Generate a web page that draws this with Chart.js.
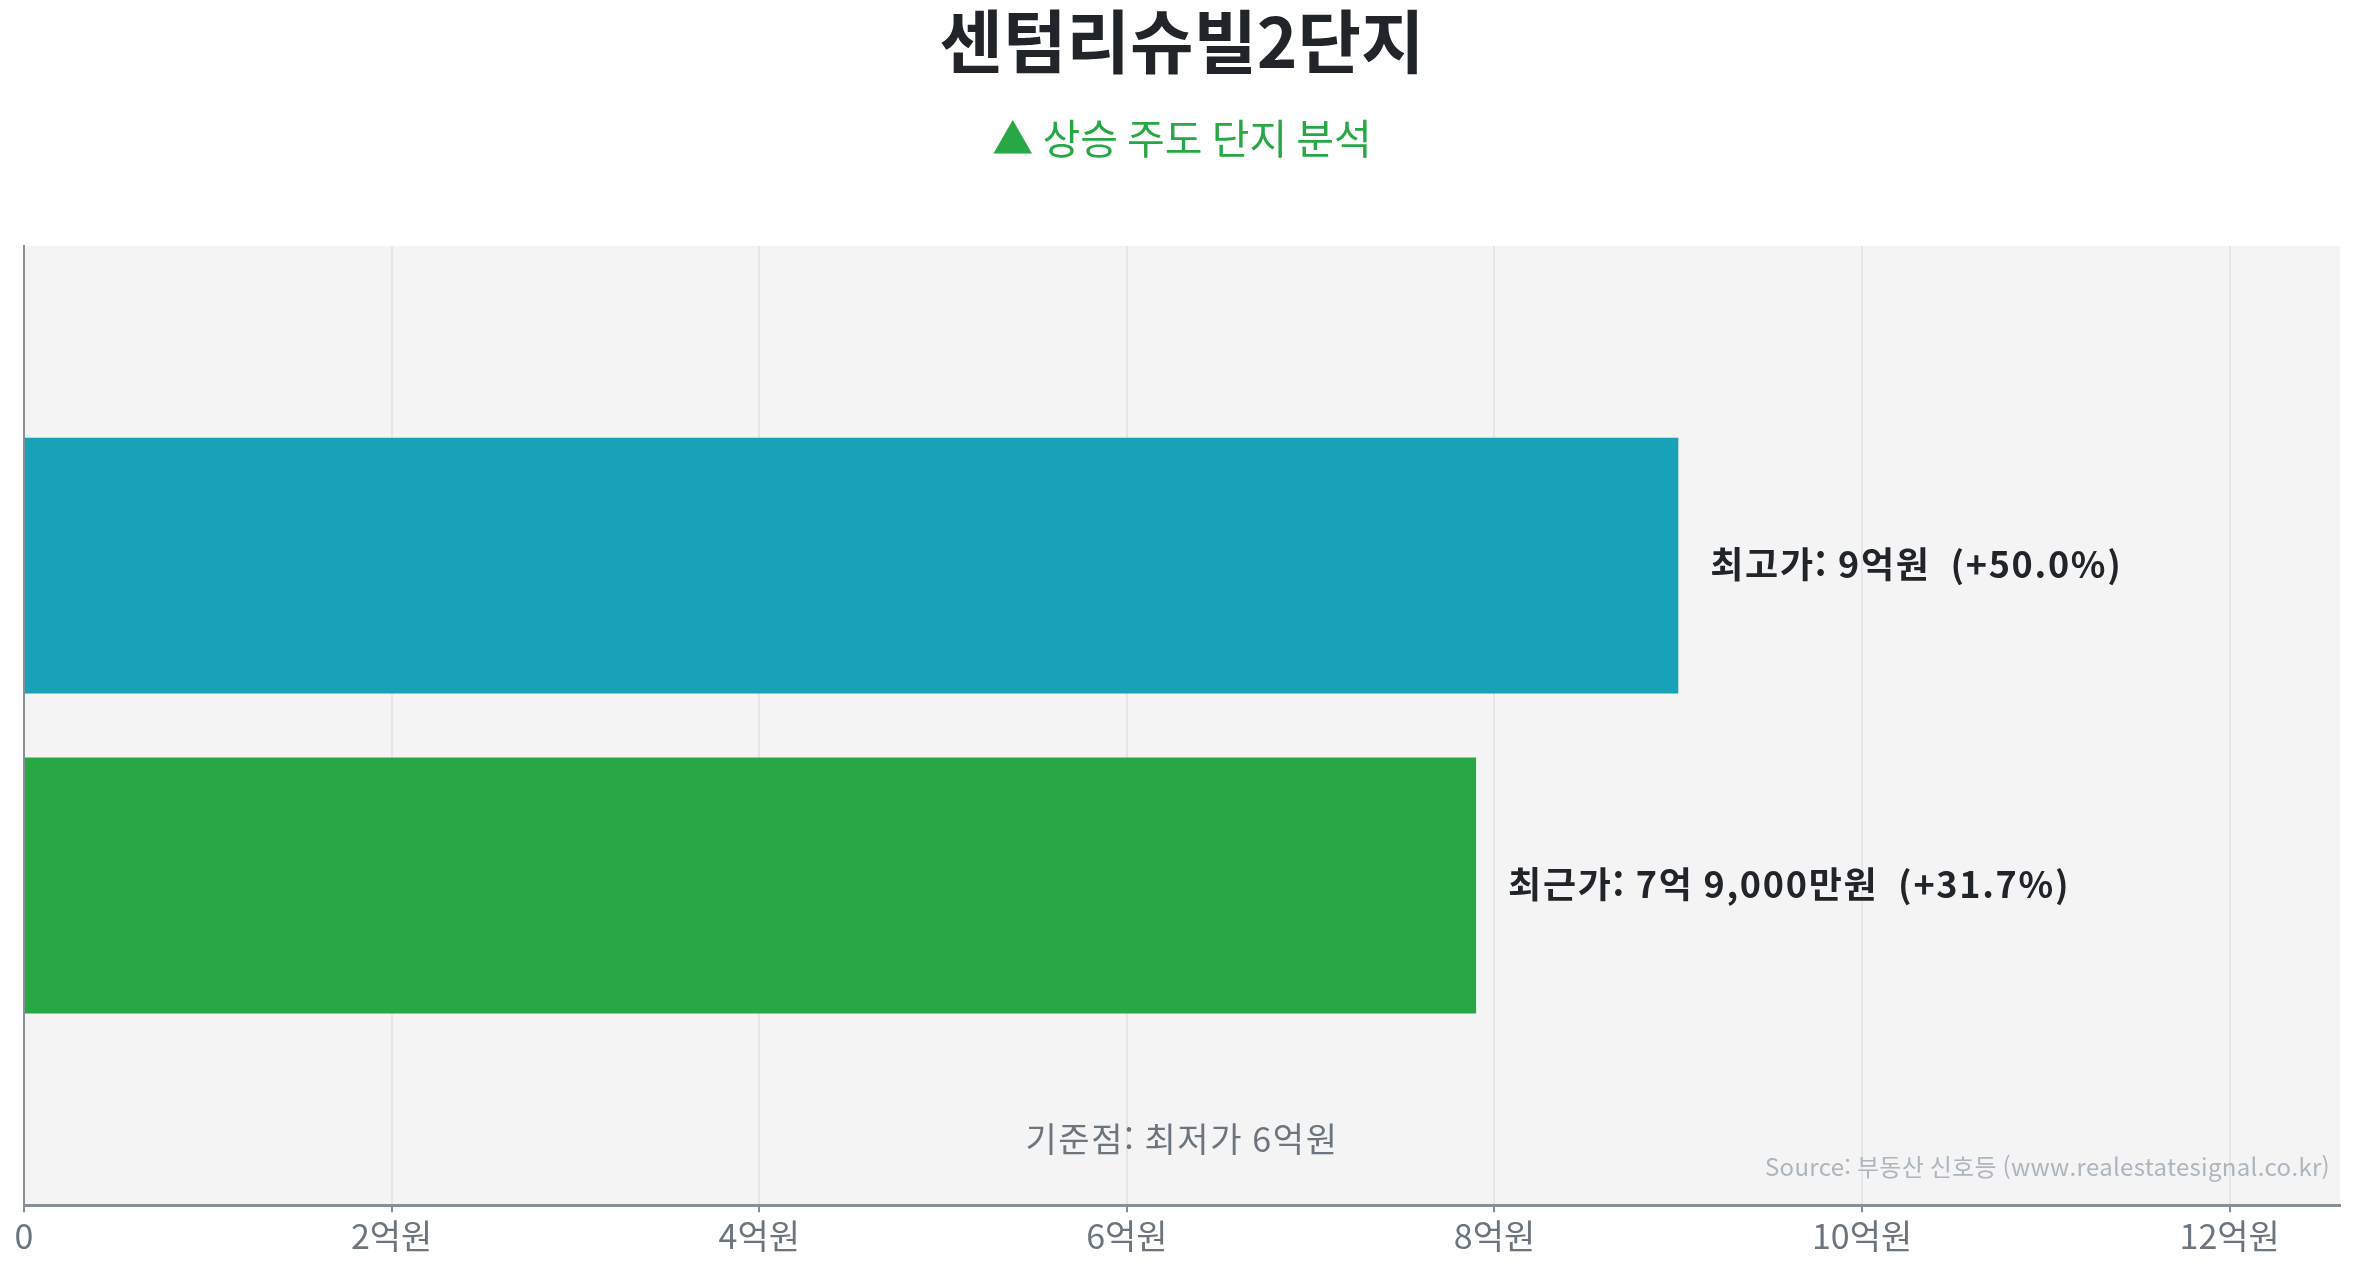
<!DOCTYPE html>
<html lang="ko">
<head>
<meta charset="UTF-8">
<title>센텀리슈빌2단지</title>
<script src="https://cdn.jsdelivr.net/npm/chart.js@4.4.0/dist/chart.umd.min.js"></script>
<style>
    html, body { margin: 0; padding: 0; background: #ffffff; }
    #wrap { width: 2357px; height: 1268px; }
</style>
</head>
<body>
<div id="wrap"><canvas id="grafico"></canvas></div>
<script>
// dados do gráfico (valores em 억원)
const categorias = [''];
const nomesSeries = ['최고가', '최근가'];
const valoresSeries = [9, 7.9];
const coresSeries = ['#17a2b8', '#28a745'];
const precoBase = 6;          // 최저가
const eixoMax = 12.6;
const passoTicks = 2;

const FONTE = '"Noto Sans CJK KR", "Noto Sans", sans-serif';

// formata 억/만원
function formataPreco(v) {
    const eok = Math.floor(v);
    const man = Math.round((v - eok) * 10000);
    if (man === 0) return eok + '억원';
    return eok + '억 ' + man.toLocaleString('en-US') + '만원';
}

function formataVariacao(v) {
    const p = (v - precoBase) / precoBase * 100;
    return (p >= 0 ? '+' : '') + p.toFixed(1) + '%';
}

// fundo cinza da área do gráfico
const fundoPlugin = {
    id: 'fundo',
    beforeDraw(chart) {
        const { ctx, chartArea: a } = chart;
        ctx.save();
        ctx.fillStyle = '#f4f4f4';
        ctx.fillRect(a.left, a.top, a.right - a.left, a.bottom - a.top);
        ctx.restore();
    }
};

// rótulos ao lado das barras + textos de rodapé
const rotulosPlugin = {
    id: 'rotulos',
    afterDatasetsDraw(chart) {
        const { ctx, chartArea: a } = chart;
        ctx.save();
        ctx.font = 'bold 36px ' + FONTE;
        ctx.letterSpacing = '1.7px';
        ctx.fillStyle = '#212529';
        ctx.textAlign = 'left';
        ctx.textBaseline = 'middle';
        chart.data.datasets.forEach((ds, i) => {
            const bar = chart.getDatasetMeta(i).data[0];
            const v = ds.data[0];
            const txt = nomesSeries[i] + ': ' + formataPreco(v) + '  (' + formataVariacao(v) + ')';
            ctx.fillText(txt, bar.x + 32, bar.y - 1);
        });

        ctx.font = '34px ' + FONTE;
        ctx.letterSpacing = '1.6px';
        ctx.fillStyle = '#6c757d';
        ctx.textAlign = 'center';
        ctx.fillText('기준점: 최저가 ' + formataPreco(precoBase), (a.left + a.right) / 2, a.bottom - 66);

        ctx.font = '24px ' + FONTE;
        ctx.letterSpacing = '0.3px';
        ctx.fillStyle = '#adb5bd';
        ctx.textAlign = 'right';
        ctx.fillText('Source: 부동산 신호등 (www.realestatesignal.co.kr)', a.right - 10, a.bottom - 38);
        ctx.restore();
    }
};

new Chart(document.getElementById('grafico'), {
    type: 'bar',
    data: {
        labels: categorias,
        datasets: nomesSeries.map((nome, i) => ({
            label: nome,
            data: [valoresSeries[i]],
            backgroundColor: coresSeries[i],
            barPercentage: 0.8,
            categoryPercentage: 0.667
        }))
    },
    options: {
        indexAxis: 'y',
        responsive: true,
        maintainAspectRatio: false,
        animation: false,
        layout: { padding: { left: 24, right: 17, top: 0, bottom: 9 } },
        plugins: {
            legend: { display: false },
            tooltip: { enabled: false },
            title: {
                display: true,
                text: '센텀리슈빌2단지',
                color: '#212529',
                font: { family: FONTE, size: 69, weight: 'bold' },
                padding: { top: 0, bottom: 20 }
            },
            subtitle: {
                display: true,
                text: '▲ 상승 주도 단지 분석',
                color: '#28a745',
                font: { family: FONTE, size: 41 },
                padding: { top: 11, bottom: 83 }
            }
        },
        scales: {
            x: {
                min: 0,
                max: eixoMax,
                grid: { color: '#e6e6e6', lineWidth: 2, tickColor: '#868e96', tickLength: 7 },
                border: { display: true, color: '#868e96', width: 3 },
                ticks: {
                    stepSize: passoTicks,
                    includeBounds: false,
                    color: '#6c757d',
                    font: { family: FONTE, size: 34 },
                    padding: 3,
                    callback: v => v === 0 ? '0' : v + '억원'
                }
            },
            y: {
                grid: { display: false, drawTicks: false },
                border: { display: true, color: '#868e96', width: 2 },
                ticks: { display: false }
            }
        }
    },
    plugins: [fundoPlugin, rotulosPlugin]
});
</script>
</body>
</html>
